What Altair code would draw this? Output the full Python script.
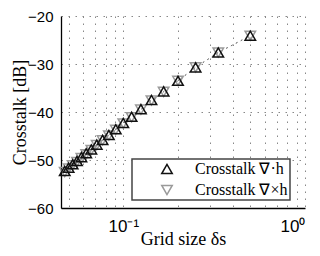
import altair as alt
import pandas as pd

# Values
grid_size = [0.5, 0.3333, 0.25, 0.2, 0.1667, 0.1429, 0.125, 0.1111, 0.1, 0.0909,
             0.0833, 0.0769, 0.0714, 0.0667, 0.0625, 0.0588, 0.0556, 0.0526, 0.05, 0.0476]
crosstalk_div = [-24.1, -27.6, -30.7, -33.5, -35.7, -37.5, -39.4, -41.0, -42.3, -43.6,
                 -44.8, -45.8, -46.8, -47.8, -48.6, -49.4, -50.2, -50.9, -51.6, -52.3]
crosstalk_curl = [-24.1, -27.6, -30.7, -33.5, -35.8, -37.6, -39.5, -41.1, -42.4, -43.7,
                  -44.9, -45.9, -46.9, -47.9, -48.8, -49.6, -50.4, -51.1, -51.8, -52.5]
series_names = ["Crosstalk ∇·h", "Crosstalk ∇×h"]
x_grid_values = [0.05, 0.06, 0.07, 0.08, 0.09, 0.1, 0.2, 0.3, 0.4, 0.5, 0.6, 0.7, 0.8, 0.9, 1.0]
y_ticks = [-60, -50, -40, -30, -20]

rows = []
# curl first so the black (div) triangles are drawn on top
for name, vals in [(series_names[1], crosstalk_curl), (series_names[0], crosstalk_div)]:
    for x, y in zip(grid_size, vals):
        rows.append({"h": x, "dB": y, "series": name})
df = pd.DataFrame(rows)

x_enc = alt.X(
    "h:Q",
    scale=alt.Scale(type="log", domain=[0.0454, 1.0], nice=False),
    axis=alt.Axis(
        values=x_grid_values,
        labelExpr="datum.value == 0.1 ? '10⁻¹' : (datum.value == 1 ? '10⁰' : '')",
        title="Grid size δs",
        labelPadding=10,
        labelFontSize=17,
        titleY=36,
        titleBaseline="alphabetic",
    ),
)
y_enc = alt.Y(
    "dB:Q",
    scale=alt.Scale(domain=[-60, -20], nice=False),
    axis=alt.Axis(
        values=y_ticks,
        labelExpr="replace(datum.label, '-', '−')",
        title="Crosstalk [dB]",
        labelPadding=8,
        titleX=-36,
        titleBaseline="alphabetic",
    ),
)

lines = alt.Chart(df).mark_line(strokeDash=[1.5, 4], color="#777777", strokeWidth=1).encode(
    x=x_enc, y=y_enc, detail="series:N"
)

leg = alt.Legend(title=None, labelExpr="datum.label + '\u2003'")
points = alt.Chart(df).mark_point(filled=False, size=110, strokeWidth=1.5, opacity=1).encode(
    x=x_enc,
    y=y_enc,
    color=alt.Color("series:N", scale=alt.Scale(domain=series_names, range=["#111111", "#9a9a9a"]), legend=leg),
    shape=alt.Shape("series:N", scale=alt.Scale(domain=series_names, range=["triangle-up", "triangle-down"]), legend=leg),
)

chart = (
    alt.layer(lines, points)
    .properties(
        width=244,
        height=192,
        autosize=alt.AutoSizeParams(type="none"),
        padding={"left": 53, "top": 8, "right": 7, "bottom": 40},
    )
    .configure_view(stroke=None)
    .configure_axis(
        domainColor="black",
        domainWidth=1.3,
        grid=True,
        gridColor="#888888",
        gridDash=[1.5, 5.5],
        gridWidth=1,
        ticks=False,
        labelFont="Liberation Sans",
        labelFontSize=15,
        labelColor="black",
        titleFont="Liberation Serif",
        titleFontSize=18,
        titleFontWeight="normal",
        titleColor="black",
    )
    .configure_legend(
        orient="none",
        legendX=71,
        legendY=143,
        fillColor="white",
        strokeColor="#444444",
        strokeWidth=1.5,
        padding=2,
        rowPadding=5,
        symbolOffset=25,
        labelOffset=20,
        labelFont="Liberation Serif",
        labelFontSize=16,
        labelColor="black",
        symbolSize=110,
        symbolStrokeWidth=1.5,
    )
)

chart.save("out.html", embed_options={"renderer": "svg", "actions": False})
